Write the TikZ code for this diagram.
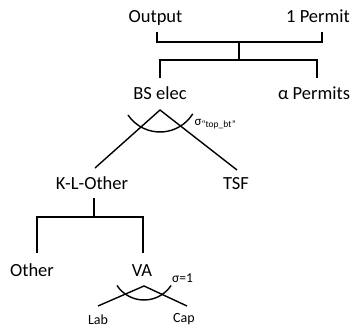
\documentclass[tikz,border=0pt]{standalone}
\usepackage{fontspec}
\setmainfont{Carlito}
\begin{document}
\begin{tikzpicture}[x=1pt,y=-1pt,
  big/.style={anchor=base,inner sep=0pt,font=\fontsize{18.5}{20}\selectfont},
  small/.style={anchor=base,inner sep=0pt,font=\fontsize{14}{15}\selectfont},
  ln/.style={line width=1.4pt,line cap=butt,line join=miter}]
\useasboundingbox (0,0) rectangle (354,328);
% texts
\node[big] (out) at (155.5,23) {Output};
\node[big] (p1) at (318,23) {1 Permit};
\node[big] (bs) at (160,100) {BS elec};
\node[big] (ap) at (314,100) {α Permits};
\node[big] (kl) at (92,190) {K-L-Other};
\node[big] (tsf) at (236,190) {TSF};
\node[big] (oth) at (32,277) {Other};
\node[big] (va) at (142,277) {VA};
\node[small] (lab) at (98,324.5) {Lab};
\node[small] (cap) at (184,323) {Cap};
\node[anchor=base west,inner sep=0pt] (s1) at (194.5,126)
  {{\fontsize{13}{14}\selectfont σ}\raisebox{-1.5pt}{\fontsize{9.5}{10}\selectfont “top\_bt”}};
\node[anchor=base west,inner sep=0pt,font=\fontsize{13.5}{14}\selectfont] (s2) at (172,283) {σ=1};
% top bracket
\coordinate (a1) at (157,32);
\coordinate (a2) at (322,32);
\coordinate (m1) at (239,42);
\coordinate (m2) at (239,60);
\coordinate (b1) at (160,78);
\coordinate (b2) at (317,78);
\draw[ln] (a1) |- (m1) -| (a2);
\draw[ln] (m1) -- (m2);
\draw[ln] (b1) |- (m2) -| (b2);
% BS elec fork
\coordinate (t1) at (160,110);
\coordinate (t1l) at (95,168);
\coordinate (t1r) at (237,170);
\draw[ln] (t1l) -- (t1) -- (t1r);
\draw[ln] (t1) ++(-32,5) arc[start angle=146,end angle=32,radius=38.6];
% K-L-Other bracket
\coordinate (k1) at (94,198);
\coordinate (k2) at (94,217);
\coordinate (k3) at (37,253);
\coordinate (k4) at (143,253);
\draw[ln] (k1) -- (k2);
\draw[ln] (k3) |- (k2) -| (k4);
% VA fork
\coordinate (v1) at (144,286);
\coordinate (v1l) at (98,306);
\coordinate (v1r) at (187,306);
\draw[ln] (v1l) -- (v1) -- (v1r);
\draw[ln] (v1) ++(-27,-0.5) arc[start angle=146.5,end angle=33.5,radius=32.4];
\end{tikzpicture}
\end{document}
